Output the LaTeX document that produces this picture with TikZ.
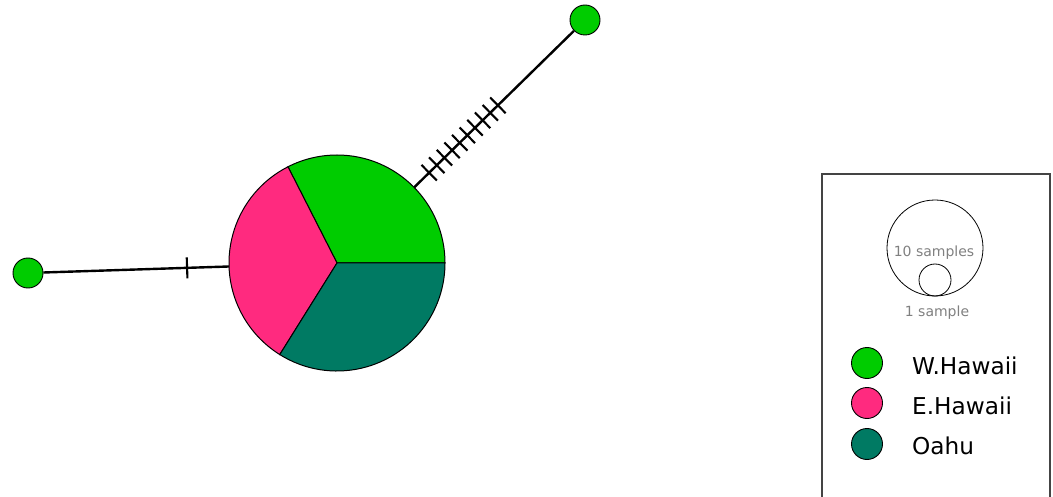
\documentclass[tikz,border=0pt]{standalone}
\usepackage{fontspec}
\setmainfont{DejaVu Sans}
\usetikzlibrary{calc}
\definecolor{wgreen}{HTML}{00CC00}
\definecolor{epink}{HTML}{FF2A7F}
\definecolor{oteal}{HTML}{007A63}
\definecolor{legframe}{HTML}{444444}
\tikzset{
  hap/.style={circle, draw=black, line width=0.9pt, inner sep=0pt, minimum size=30pt},
  edge/.style={line width=2.4pt, draw=black},
  mutick/.style={line width=2.1pt, draw=black},
  sector/.style={draw=black, line width=1pt},
  legdot/.style={circle, draw=black, line width=0.9pt, inner sep=0pt, minimum size=31pt},
  leglabel/.style={anchor=west, inner sep=0pt, font=\fontsize{23.2}{24}\selectfont},
  sizelabel/.style={inner sep=0pt, text=gray, font=\fontsize{14}{15}\selectfont},
  sizecircle/.style={draw=black, line width=0.8pt}
}
\begin{document}
\begin{tikzpicture}[x=1pt,y=-1pt]
\useasboundingbox (0,0) rectangle (1053,497);
% hub pie
\node[circle, minimum size=216pt, inner sep=0pt] (hub) at (337,263) {};
\filldraw[sector, fill=wgreen] (hub.center) -- +(0:108) arc[start angle=0, end angle=-117, radius=108] -- cycle;
\filldraw[sector, fill=epink] (hub.center) -- +(-117:108) arc[start angle=-117, end angle=-238, radius=108] -- cycle;
\filldraw[sector, fill=oteal] (hub.center) -- +(-238:108) arc[start angle=-238, end angle=-360, radius=108] -- cycle;
% outer haplotypes
\node[hap, fill=wgreen] (left) at (28,273) {};
\node[hap, fill=wgreen] (top) at (585,20) {};
\draw[edge] (hub) -- (left);
\draw[edge] (hub) -- (top);
% mutation ticks
\draw[mutick] ($(hub.center)!150pt!(left.center)!10.5pt!90:(left.center)$) -- ($(hub.center)!150pt!(left.center)!10.5pt!-90:(left.center)$);
\foreach \i in {0,...,9} {
  \pgfmathsetmacro\d{129+10.7*\i}
  \draw[mutick] ($(hub.center)!\d pt!(top.center)!11pt!90:(top.center)$) -- ($(hub.center)!\d pt!(top.center)!11pt!-90:(top.center)$);
}
% legend
\draw[legframe, line width=1.3pt] (822,497) -- (822,174) -- (1050,174) -- (1050,497);
\node[circle, sizecircle, minimum size=96pt, inner sep=0pt] (big) at (935,248) {};
\node[circle, sizecircle, minimum size=32pt, inner sep=0pt] (small) at (935,280) {};
\node[sizelabel] (tenlab) at (934,253) {10 samples};
\node[sizelabel] (onelab) at (937,313) {1 sample};
\node[legdot, fill=wgreen] (lw) at (867,363) {};
\node[legdot, fill=epink] (le) at (867,403) {};
\node[legdot, fill=oteal] (lo) at (867,444) {};
\node[leglabel] (tw) at (912,366) {W.Hawaii};
\node[leglabel] (te) at (912,406) {E.Hawaii};
\node[leglabel] (to) at (912,446) {Oahu};
\end{tikzpicture}
\end{document}
